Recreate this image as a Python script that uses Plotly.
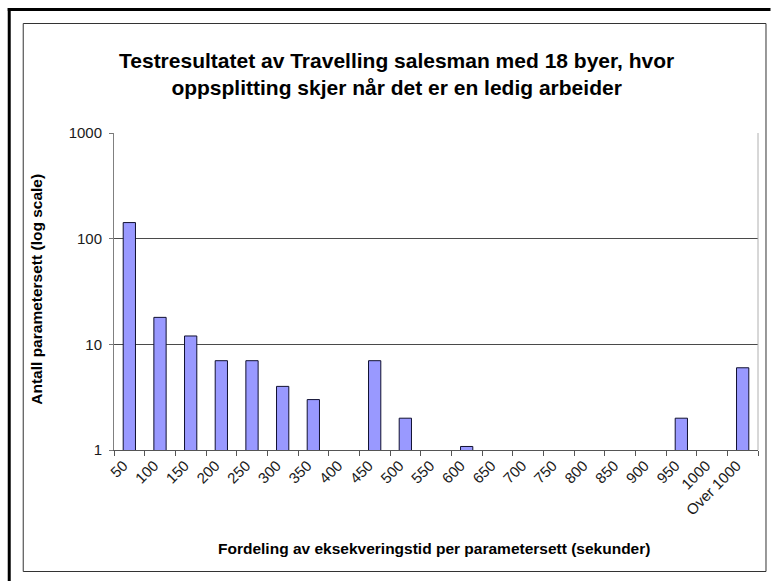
import plotly.graph_objects as go

# Histogram buckets (seconds) and the number of parameter sets in each
categories = ["50", "100", "150", "200", "250", "300", "350", "400", "450", "500",
              "550", "600", "650", "700", "750", "800", "850", "900", "950", "1000",
              "Over 1000"]
counts = [142, 18, 12, 7, 7, 4, 3, None, 7, 2,
          None, 1.08, None, None, None, None, None, None, 2, None,
          6]

y_tick_vals = [1, 10, 100, 1000]
y_tick_text = ["1", "10", "100", "1000"]

title_text = ("Testresultatet av Travelling salesman med 18 byer, hvor<br>"
              "oppsplitting skjer når det er en ledig arbeider")
x_title = "Fordeling av eksekveringstid per parametersett (sekunder)"
y_title = "Antall parametersett (log scale)"

W, H = 771, 581
PL, PR, PT, PB = 114.3, 758.5, 133.0, 450.0  # plot area in pixels


def px(x):
    return (x - PL) / (PR - PL)


def py(y):
    return (PB - y) / (PB - PT)


FONT = "Arial, Liberation Sans, sans-serif"

fig = go.Figure(
    go.Bar(
        x=categories,
        y=counts,
        width=0.4,
        marker=dict(color="#9999FF", line=dict(color="#101030", width=1)),
    )
)

fig.update_layout(
    width=W,
    height=H,
    margin=dict(l=PL, r=W - PR, t=PT, b=H - PB),
    paper_bgcolor="white",
    plot_bgcolor="white",
    showlegend=False,
    font=dict(family=FONT, color="black"),
)

fig.update_xaxes(
    type="category",
    tickangle=-45,
    tickfont=dict(size=15, family=FONT, color="#1a1a1a"),
    ticks="outside",
    tickson="boundaries",
    ticklen=5,
    tickcolor="#555555",
    ticklabelshift=-6,
    showline=True,
    linecolor="#555555",
    linewidth=1,
    showgrid=False,
    fixedrange=True,
)

fig.update_yaxes(
    type="log",
    range=[0, 3],
    tickvals=y_tick_vals,
    ticktext=y_tick_text,
    tickfont=dict(size=15, family=FONT, color="#1a1a1a"),
    ticks="outside",
    ticklen=4,
    tickcolor="#777777",
    ticklabelstandoff=4,
    showline=True,
    linecolor="#808080",
    linewidth=1,
    showgrid=True,
    gridcolor="#4a4a4a",
    gridwidth=1,
    zeroline=False,
    fixedrange=True,
)

shapes = [
    # thick black frame at top and left
    dict(type="line", xref="paper", yref="paper",
         x0=px(8), x1=px(771), y0=py(9.5), y1=py(9.5),
         line=dict(color="black", width=3)),
    dict(type="line", xref="paper", yref="paper",
         x0=px(9.5), x1=px(9.5), y0=py(8), y1=py(581),
         line=dict(color="black", width=3)),
    # chart area border
    dict(type="rect", xref="paper", yref="paper",
         x0=px(23.5), x1=px(766.5), y0=py(23.5), y1=py(571.5),
         line=dict(color="#333333", width=1), fillcolor="rgba(0,0,0,0)"),
    # right edge of the plot area
    dict(type="line", xref="paper", yref="paper",
         x0=1, x1=1, y0=0, y1=1,
         line=dict(color="#b0b0b0", width=1)),
]

annotations = [
    dict(text="<b>" + title_text + "</b>", xref="paper", yref="paper",
         x=px(397), y=py(74), xanchor="center", yanchor="middle",
         showarrow=False, align="center",
         font=dict(size=21, family=FONT, color="black")),
    dict(text="<b>" + x_title + "</b>", xref="paper", yref="paper",
         x=px(434), y=py(548), xanchor="center", yanchor="middle",
         showarrow=False, font=dict(size=15.5, family=FONT, color="black")),
    dict(text="<b>" + y_title + "</b>", xref="paper", yref="paper",
         x=px(36), y=py(289), xanchor="center", yanchor="middle",
         showarrow=False, textangle=-90,
         font=dict(size=15.5, family=FONT, color="black")),
]

fig.update_layout(shapes=shapes, annotations=annotations)

fig.write_html("out.html")
